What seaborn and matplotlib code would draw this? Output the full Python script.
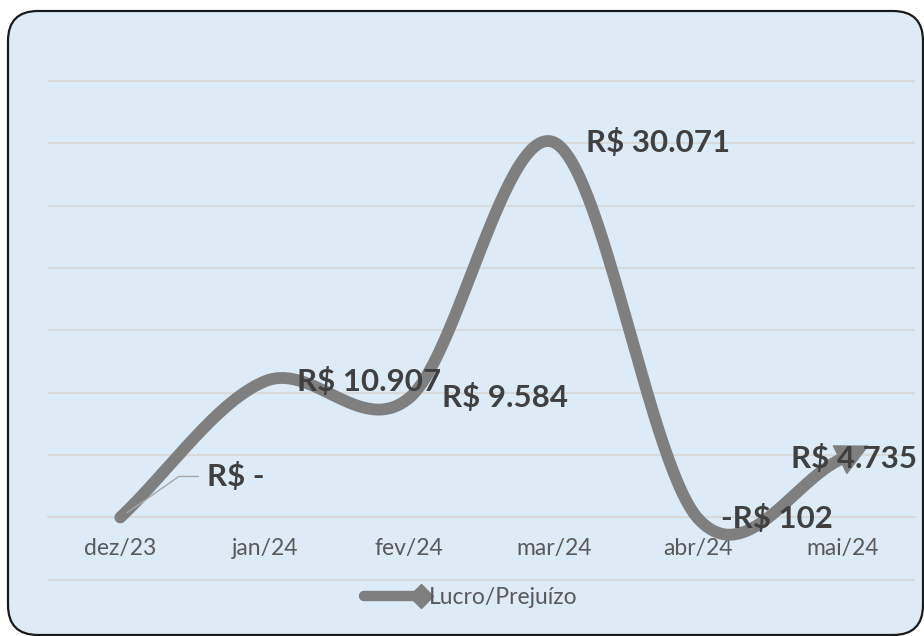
import numpy as np
import matplotlib.pyplot as plt
import seaborn as sns
from matplotlib.patches import FancyBboxPatch, FancyArrowPatch
from matplotlib.transforms import IdentityTransform
from matplotlib.lines import Line2D
from matplotlib.legend_handler import HandlerBase

# Valores
meses = ["dez/23", "jan/24", "fev/24", "mar/24", "abr/24", "mai/24"]
lucro = [0, 10907, 9584, 30071, -102, 4735]
rotulos = ["R$ -", "R$ 10.907", "R$ 9.584", "R$ 30.071", "-R$ 102", "R$ 4.735"]
serie = "Lucro/Prejuízo"

# deslocamento dos rótulos (pixels) em relação ao ponto
desloc = [(87, 41), (32, 0), (33, 0), (32, 0), (23, 0), (-52, 0)]

cinza = "#7F7F7F"
grade = "#D9D9D9"


def suaviza(y, n=60):
    # linha suavizada tipo Excel (Bezier / Catmull-Rom)
    p = np.column_stack([np.arange(len(y)), y]).astype(float)
    ext = np.vstack([2 * p[0] - p[1], p, 2 * p[-1] - p[-2]])
    t = np.linspace(0, 1, n)[:, None]
    pts = []
    for i in range(len(p) - 1):
        p0, p1, p2, p3 = ext[i], ext[i + 1], ext[i + 2], ext[i + 3]
        c1 = p1 + (p2 - p0) / 6
        c2 = p2 - (p3 - p1) / 6
        seg = (1 - t) ** 3 * p1 + 3 * (1 - t) ** 2 * t * c1 + 3 * (1 - t) * t ** 2 * c2 + t ** 3 * p2
        pts.append(seg if i == 0 else seg[1:])
    return np.vstack(pts)


class FimDiamante(HandlerBase):
    def create_artists(self, legend, orig, xd, yd, w, h, fs, trans):
        y = h / 2 - yd
        linha = Line2D([-xd, w - xd], [y, y], color=cinza, lw=7.5,
                       solid_capstyle="round", transform=trans)
        ponta = Line2D([w - xd], [y], marker="D", ms=12, color=cinza,
                       lw=0, transform=trans)
        return [linha, ponta]


sns.set_theme(style="white")
plt.rcParams["font.family"] = ["Lato", "DejaVu Sans"]

fig = plt.figure(figsize=(9.24, 6.36), dpi=100)
fig.patch.set_facecolor("white")
caixa = FancyBboxPatch((8, 1), 915, 624, boxstyle="round,pad=0,rounding_size=30",
                       transform=IdentityTransform(), fc="#DDEBF7", ec="#1A1A1A",
                       lw=1.6, zorder=-5)
fig.add_artist(caixa)

ax = fig.add_axes([48 / 924, (636 - 580.6) / 636, 867 / 924, (580.6 - 80) / 636])
ax.set_facecolor("none")
ax.set_xlim(-0.5, 5.5)
ax.set_ylim(-5060, 35060)

curva = suaviza(lucro)
sns.lineplot(x=curva[:, 0], y=curva[:, 1], sort=False, estimator=None,
             color=cinza, lw=8.5, solid_capstyle="round", ax=ax, zorder=3)

# ponta de seta no fim da linha
fim = ax.transData.transform(curva[-1])
antes = ax.transData.transform(curva[-4])
d = (fim - antes) / np.linalg.norm(fim - antes)
seta = FancyArrowPatch(posA=fim - d * 3, posB=fim + d * 32,
                       arrowstyle="-|>,head_length=1.1,head_width=0.55",
                       mutation_scale=20, color=cinza, lw=1,
                       transform=IdentityTransform(), zorder=3)
ax.add_patch(seta)

# eixos e grade
ax.set_yticks(np.arange(-5000, 35001, 5000))
ax.tick_params(axis="y", length=0, labelleft=False)
ax.grid(axis="y", color=grade, lw=1.5)
ax.grid(axis="x", visible=False)
ax.set_axisbelow(True)
for s in ["top", "right", "left"]:
    ax.spines[s].set_visible(False)
ax.spines["bottom"].set_position(("data", 0))
ax.spines["bottom"].set_color(grade)
ax.spines["bottom"].set_linewidth(1.5)
ax.set_xticks(range(len(meses)))
ax.set_xticklabels(meses)
ax.tick_params(axis="x", length=0, pad=15, labelsize=16.5, labelcolor="#595959")
ax.set_xticks(np.arange(-0.5, len(meses)), minor=True)
ax.tick_params(axis="x", which="minor", length=5, width=1.5, color=grade)
ax.set_xlabel("")
ax.set_ylabel("")

# rótulos de dados
for i, txt in enumerate(rotulos):
    extra = {}
    if i == 0:
        extra["arrowprops"] = dict(arrowstyle="-", color="#A6A6A6", lw=1,
                                   connectionstyle="angle,angleA=0,angleB=35,rad=0",
                                   shrinkA=4, shrinkB=6)
    ax.annotate(txt, xy=(i, lucro[i]), xytext=desloc[i], textcoords="offset pixels",
                ha="left", va="center", fontsize=22.5, fontweight="bold",
                color="#404040", zorder=5, **extra)

ax.legend(handles=[Line2D([0], [0], color=cinza)], labels=[serie],
          handler_map={Line2D: FimDiamante()}, loc="center",
          bbox_to_anchor=(471 / 924, 38 / 636), bbox_transform=fig.transFigure,
          frameon=False, fontsize=16.5, handlelength=2.5, handletextpad=0.35,
          labelcolor="#595959", borderaxespad=0)

fig.savefig("out.png", dpi=100)
